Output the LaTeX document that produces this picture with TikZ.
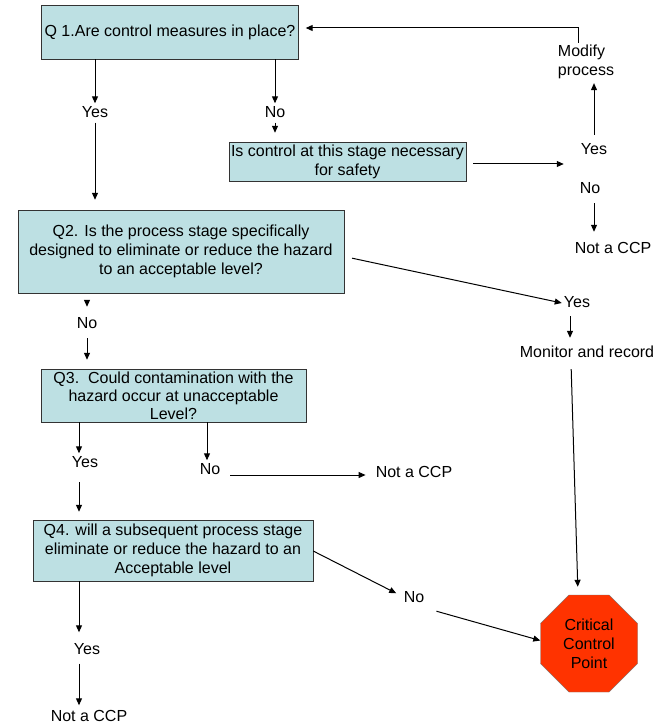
\documentclass[tikz,border=0pt]{standalone}
\usepackage{fontspec}
\setmainfont{Liberation Sans}
\usetikzlibrary{arrows.meta,shapes.geometric}
\definecolor{caixa}{RGB}{189,224,227}
\definecolor{pare}{RGB}{255,51,0}

\begin{document}
\begin{tikzpicture}[x=1pt,y=-1pt,
		font=\fontsize{16}{19}\selectfont,
		pergunta/.style={draw=black!80, fill=caixa, align=center, inner xsep=2pt, inner ysep=1pt},
		parada/.style={draw=black!55, fill=pare, regular polygon, regular polygon sides=8, inner sep=0pt, align=center},
		rotulo/.style={inner sep=2pt, text height=12pt, text depth=3pt},
		seta/.style={-{Triangle[length=7pt,width=6pt]}, line width=1pt}]
		\useasboundingbox (0,0) rectangle (668,727);

		% Perguntas
		\node[pergunta, minimum width=257pt, minimum height=54pt] (q1) at (170,32)		{Q 1.Are control measures in place?};
		\node[pergunta, minimum width=235pt, minimum height=39pt] (ctrl) at (347.5,161.5)	{Is control at this stage necessary\\for safety};
		\node[pergunta, minimum width=326pt, minimum height=83pt] (q2) at (181,251.5)	{Q2. Is the process stage specifically\\designed to eliminate or reduce the hazard\\to an acceptable level?};
		\node[pergunta, minimum width=265pt, minimum height=53pt, font=\fontsize{16}{18}\selectfont] (q3) at (173.5,395.5)	{Q3.\ \ Could contamination with the\\hazard occur at unacceptable\\Level?};
		\node[pergunta, minimum width=280pt, minimum height=61pt] (q4) at (173,550.5)	{Q4. will a subsequent process stage\\eliminate or reduce the hazard to an\\Acceptable level};
		\node[parada, minimum size=105pt] (ccp) at (589,643.5)							{Critical\\Control\\Point};	% Octógono

		% Respostas
		\node[rotulo] (sim1) at (95,113)		{Yes};
		\node[rotulo] (nao1) at (275,113)		{No};
		\node[rotulo] (sim2) at (594,150)		{Yes};
		\node[rotulo] (nao2) at (590,189)		{No};
		\node[align=left, inner sep=2pt] (modif) at (586,62)	{Modify\\process};
		\node[rotulo] (naopcc1) at (613,249)	{Not a CCP};
		\node[rotulo] (nao3) at (87,324)		{No};
		\node[rotulo] (sim3) at (577,303)		{Yes};
		\node[rotulo] (monit) at (587,353)		{Monitor and record};
		\node[rotulo] (sim4) at (85,463)		{Yes};
		\node[rotulo] (nao4) at (210,470)		{No};
		\node[rotulo] (naopcc2) at (414,473)	{Not a CCP};
		\node[rotulo] (nao5) at (414,598)		{No};
		\node[rotulo] (sim5) at (87,650)		{Yes};
		\node[rotulo] (naopcc3) at (89,717)	{Not a CCP};
		\coordinate (volta) at (578,28);										% Canto do retorno

		% Setas
		\draw[seta] (q1.south -| sim1) -- (sim1.north);
		\draw[seta, shorten >=10pt] (sim1.south) -- (sim1 |- q2.north);
		\draw[seta] (q1.south -| nao1) -- (nao1.north);
		\draw[seta, shorten >=9pt] (nao1.south) -- (nao1 |- ctrl.north);
		\draw[seta, shorten <=7pt, shorten >=15pt] ([yshift=-2.5pt]ctrl.east) -- ([yshift=-2.5pt]ctrl.east -| sim2.west);
		\draw[seta, shorten <=5.5pt, shorten >=2pt] (sim2.north) -- (sim2 |- modif.south);
		\draw[seta, shorten >=7pt] (volta |- modif.north) -- (volta) -- (volta -| q1.east);
		\draw[seta, shorten <=4.5pt, shorten >=7.5pt] (sim2 |- nao2.south) -- (sim2 |- naopcc1.north);
		\draw[seta, shorten <=8pt] ([yshift=-5pt]q2.east) -- (sim3.west);
		\draw[seta, shorten <=7pt, shorten >=7.5pt] (q2.south -| nao3) -- (nao3.north);
		\draw[seta, shorten <=4.5pt, shorten >=9pt] (nao3.south) -- (nao3 |- q3.north);
		\draw[seta] ([xshift=-6pt]sim4.north |- q3.south) -- ([xshift=-6pt]sim4.north);
		\draw[seta, shorten <=9.5pt, shorten >=8pt] ([xshift=-6pt]sim4.south) -- ([xshift=-6pt]sim4.south |- q4.north);
		\draw[seta] ([xshift=-3pt]nao4.north |- q3.south) -- ([xshift=-3pt]nao4.north);
		\draw[seta, shorten <=8pt, shorten >=8pt] ([yshift=-5pt]nao4.east) -- ([yshift=-5pt]nao4.east -| naopcc2.west);
		\draw[seta, shorten <=3.5pt, shorten >=5.5pt] ([xshift=-7pt]sim3.south) -- ([xshift=-7pt]sim3.south |- monit.north);
		\draw[seta, shorten <=6.5pt, shorten >=8pt] ([xshift=-16pt]monit.south) -- ([xshift=-11pt]ccp.north);
		\draw[seta, shorten >=6pt] ([yshift=-0.5pt]q4.east) -- ([yshift=2pt]nao5.west);
		\draw[seta] ([shift={(10pt,-3.5pt)}]nao5.south east) -- ([yshift=3pt]ccp.west);
		\draw[seta, shorten >=8pt] ([xshift=-8pt]sim5.north |- q4.south) -- ([xshift=-8pt]sim5.north);
		\draw[seta, shorten <=4pt, shorten >=2pt] ([xshift=-8pt]sim5.south) -- ([xshift=-8pt]sim5.south |- naopcc3.north);
	\end{tikzpicture}
\end{document}
